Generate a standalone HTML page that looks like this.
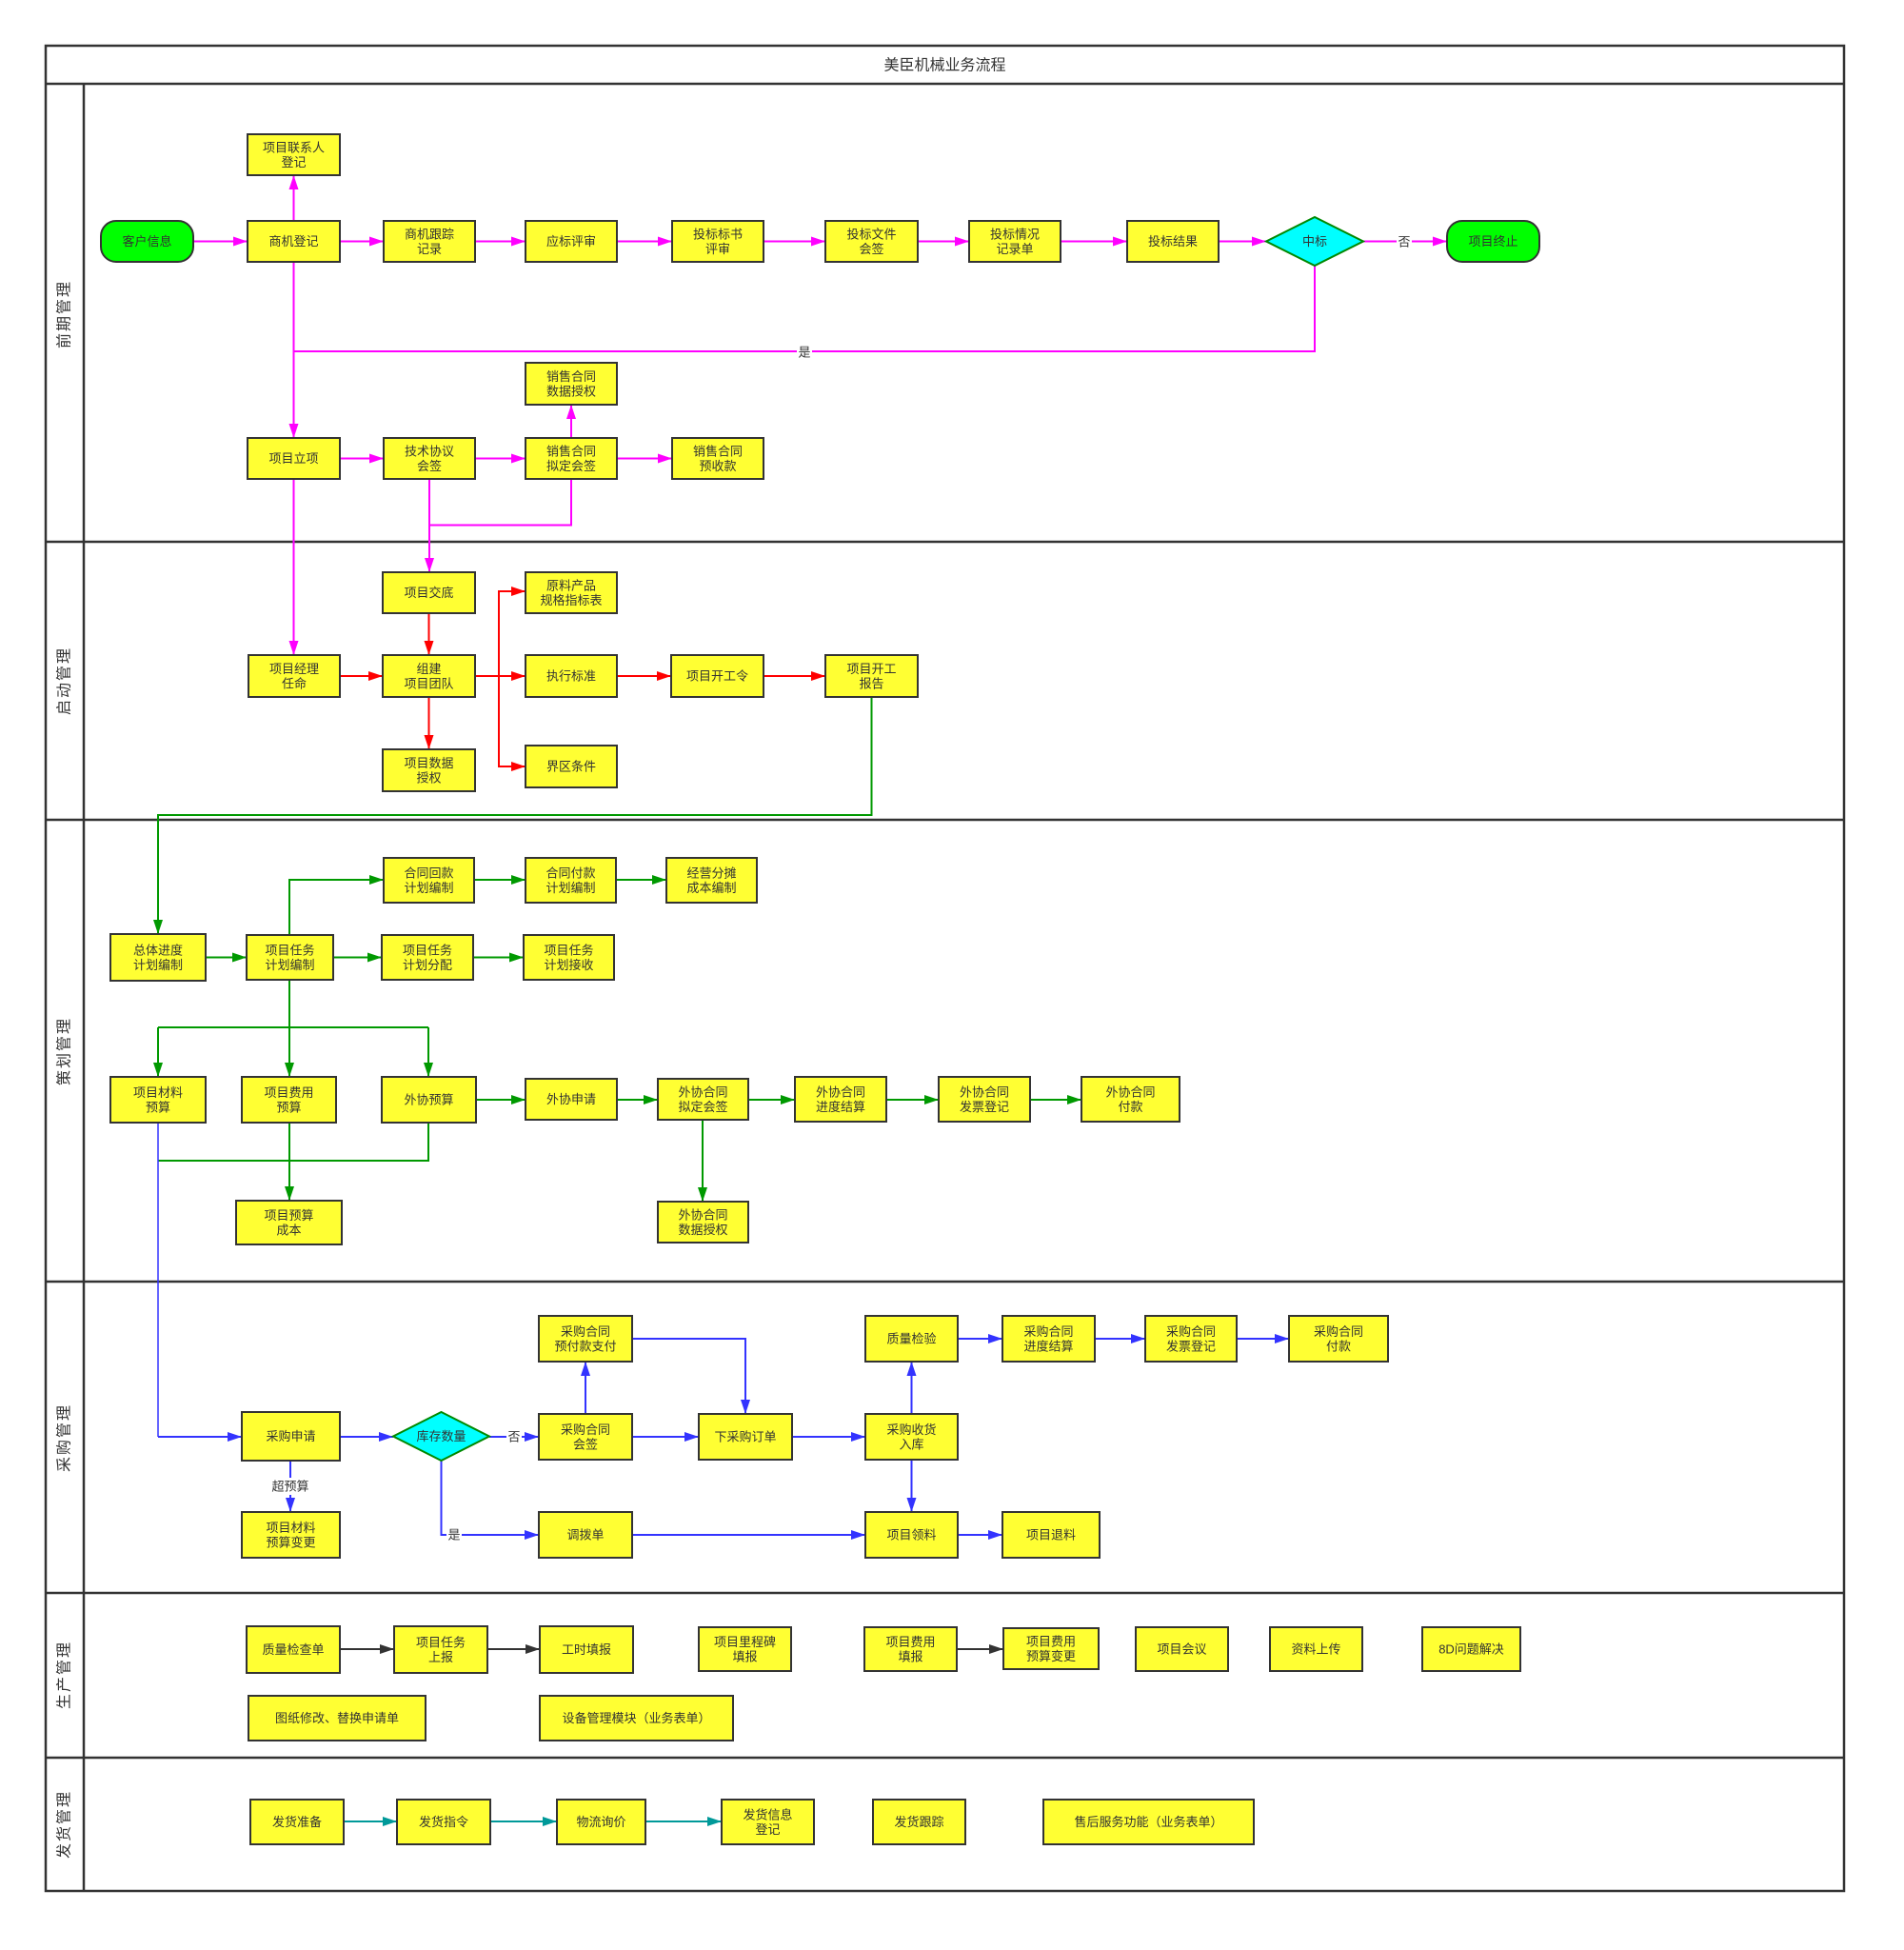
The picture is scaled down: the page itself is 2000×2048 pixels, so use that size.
<!DOCTYPE html>
<html>
<head>
<meta charset="utf-8">
<style>
html,body{margin:0;padding:0;background:#fff;}
svg{display:block;}
text{font-family:"Liberation Sans","Noto Sans CJK SC","WenQuanYi Zen Hei",sans-serif;fill:#333;}
.b{fill:#ffff33;stroke:#333;stroke-width:2;}
.p{fill:#00ff00;stroke:#333;stroke-width:2;}
.d{fill:#00ffff;stroke:#008800;stroke-width:2;}
.t{font-size:13px;text-anchor:middle;dominant-baseline:central;}
.ln{font-size:16px;text-anchor:middle;dominant-baseline:central;letter-spacing:2px;}
.M{stroke:#ff00ff;stroke-width:2;fill:none;}
.R{stroke:#ff0000;stroke-width:2;fill:none;}
.G{stroke:#009900;stroke-width:2;fill:none;}
.B{stroke:#3333ff;stroke-width:2;fill:none;}
.K{stroke:#333;stroke-width:2;fill:none;}
.T{stroke:#009999;stroke-width:2;fill:none;}
</style>
</head>
<body>
<svg width="2000" height="2048" viewBox="0 0 2000 2048" xmlns="http://www.w3.org/2000/svg">
<defs>
<marker id="aM" markerUnits="userSpaceOnUse" markerWidth="15" markerHeight="10" refX="15" refY="5" orient="auto"><path d="M0,0 L15,5 L0,10 z" fill="#ff00ff"/></marker>
<marker id="aR" markerUnits="userSpaceOnUse" markerWidth="15" markerHeight="10" refX="15" refY="5" orient="auto"><path d="M0,0 L15,5 L0,10 z" fill="#ff0000"/></marker>
<marker id="aG" markerUnits="userSpaceOnUse" markerWidth="15" markerHeight="10" refX="15" refY="5" orient="auto"><path d="M0,0 L15,5 L0,10 z" fill="#009900"/></marker>
<marker id="aB" markerUnits="userSpaceOnUse" markerWidth="15" markerHeight="10" refX="15" refY="5" orient="auto"><path d="M0,0 L15,5 L0,10 z" fill="#3333ff"/></marker>
<marker id="aK" markerUnits="userSpaceOnUse" markerWidth="15" markerHeight="10" refX="15" refY="5" orient="auto"><path d="M0,0 L15,5 L0,10 z" fill="#333"/></marker>
<marker id="aT" markerUnits="userSpaceOnUse" markerWidth="15" markerHeight="10" refX="15" refY="5" orient="auto"><path d="M0,0 L15,5 L0,10 z" fill="#009999"/></marker>
</defs>
<rect x="0" y="0" width="2000" height="2048" fill="#fff"/>

<!-- Frame -->
<rect x="48" y="48" width="1889" height="1938" fill="none" stroke="#333" stroke-width="2.5"/>
<line x1="48" y1="88" x2="1937" y2="88" stroke="#333" stroke-width="2.5"/>
<line x1="88" y1="88" x2="88" y2="1986" stroke="#333" stroke-width="2.5"/>
<line x1="48" y1="569" x2="1937" y2="569" stroke="#333" stroke-width="2.5"/>
<line x1="48" y1="861" x2="1937" y2="861" stroke="#333" stroke-width="2.5"/>
<line x1="48" y1="1346" x2="1937" y2="1346" stroke="#333" stroke-width="2.5"/>
<line x1="48" y1="1673" x2="1937" y2="1673" stroke="#333" stroke-width="2.5"/>
<line x1="48" y1="1846" x2="1937" y2="1846" stroke="#333" stroke-width="2.5"/>
<text x="992.5" y="69" style="font-size:16px;text-anchor:middle;dominant-baseline:central;">美臣机械业务流程</text>

<text class="ln" x="68" y="330" transform="rotate(-90 68 330)">前期管理</text>
<text class="ln" x="68" y="715" transform="rotate(-90 68 715)">启动管理</text>
<text class="ln" x="68" y="1104" transform="rotate(-90 68 1104)">策划管理</text>
<text class="ln" x="68" y="1510" transform="rotate(-90 68 1510)">采购管理</text>
<text class="ln" x="68" y="1759" transform="rotate(-90 68 1759)">生产管理</text>
<text class="ln" x="68" y="1916" transform="rotate(-90 68 1916)">发货管理</text>

<!-- ===== Lane 1 connectors ===== -->
<path class="M" d="M203,253.5 L260,253.5" marker-end="url(#aM)"/>
<path class="M" d="M357,253.5 L403,253.5" marker-end="url(#aM)"/>
<path class="M" d="M499,253.5 L552,253.5" marker-end="url(#aM)"/>
<path class="M" d="M648,253.5 L706,253.5" marker-end="url(#aM)"/>
<path class="M" d="M802,253.5 L867,253.5" marker-end="url(#aM)"/>
<path class="M" d="M964,253.5 L1018,253.5" marker-end="url(#aM)"/>
<path class="M" d="M1114,253.5 L1184,253.5" marker-end="url(#aM)"/>
<path class="M" d="M1280,253.5 L1330,253.5" marker-end="url(#aM)"/>
<path class="M" d="M1432,253.5 L1520,253.5" marker-end="url(#aM)"/>
<rect x="1467" y="245" width="16" height="17" fill="#fff"/>
<text class="t" x="1475" y="254">否</text>
<path class="M" d="M308.5,232 L308.5,184" marker-end="url(#aM)"/>
<path class="M" d="M308.5,275 L308.5,460" marker-end="url(#aM)"/>
<path class="M" d="M1381,279 L1381,369 L308.5,369"/>
<rect x="837" y="361" width="16" height="17" fill="#fff"/>
<text class="t" x="845" y="370">是</text>
<path class="M" d="M357,481.5 L403,481.5" marker-end="url(#aM)"/>
<path class="M" d="M499,481.5 L552,481.5" marker-end="url(#aM)"/>
<path class="M" d="M648,481.5 L706,481.5" marker-end="url(#aM)"/>
<path class="M" d="M600,460 L600,425" marker-end="url(#aM)"/>
<path class="M" d="M600,503 L600,551.5 L451,551.5"/>
<path class="M" d="M451,503 L451,601" marker-end="url(#aM)"/>
<path class="M" d="M308.5,503 L308.5,688" marker-end="url(#aM)"/>

<!-- ===== Lane 1 nodes ===== -->
<rect class="b" x="260" y="141" width="97" height="43"/>
<text class="t" x="308.5" y="154.8">项目联系人</text><text class="t" x="308.5" y="170.3">登记</text>
<rect class="p" x="106" y="232" width="97" height="43" rx="16" ry="16"/>
<text class="t" x="154.5" y="253.5">客户信息</text>
<rect class="b" x="260" y="232" width="97" height="43"/>
<text class="t" x="308.5" y="253.5">商机登记</text>
<rect class="b" x="403" y="232" width="96" height="43"/>
<text class="t" x="451" y="245.8">商机跟踪</text><text class="t" x="451" y="261.3">记录</text>
<rect class="b" x="552" y="232" width="96" height="43"/>
<text class="t" x="600" y="253.5">应标评审</text>
<rect class="b" x="706" y="232" width="96" height="43"/>
<text class="t" x="754" y="245.8">投标标书</text><text class="t" x="754" y="261.3">评审</text>
<rect class="b" x="867" y="232" width="97" height="43"/>
<text class="t" x="915.5" y="245.8">投标文件</text><text class="t" x="915.5" y="261.3">会签</text>
<rect class="b" x="1018" y="232" width="96" height="43"/>
<text class="t" x="1066" y="245.8">投标情况</text><text class="t" x="1066" y="261.3">记录单</text>
<rect class="b" x="1184" y="232" width="96" height="43"/>
<text class="t" x="1232" y="253.5">投标结果</text>
<polygon class="d" points="1330,253.5 1381,228 1432,253.5 1381,279"/>
<text class="t" x="1381" y="253.5">中标</text>
<rect class="p" x="1520" y="232" width="97" height="43" rx="16" ry="16"/>
<text class="t" x="1568.5" y="253.5">项目终止</text>
<rect class="b" x="552" y="381" width="96" height="44"/>
<text class="t" x="600" y="395.3">销售合同</text><text class="t" x="600" y="410.8">数据授权</text>
<rect class="b" x="260" y="460" width="97" height="43"/>
<text class="t" x="308.5" y="481.5">项目立项</text>
<rect class="b" x="403" y="460" width="96" height="43"/>
<text class="t" x="451" y="473.8">技术协议</text><text class="t" x="451" y="489.3">会签</text>
<rect class="b" x="552" y="460" width="96" height="43"/>
<text class="t" x="600" y="473.8">销售合同</text><text class="t" x="600" y="489.3">拟定会签</text>
<rect class="b" x="706" y="460" width="96" height="43"/>
<text class="t" x="754" y="473.8">销售合同</text><text class="t" x="754" y="489.3">预收款</text>

<!-- ===== Lane 2 connectors ===== -->
<path class="R" d="M450.5,644 L450.5,688" marker-end="url(#aR)"/>
<path class="R" d="M357,710 L402,710" marker-end="url(#aR)"/>
<path class="R" d="M499,710 L552,710" marker-end="url(#aR)"/>
<path class="R" d="M524,710 L524,621 L552,621" marker-end="url(#aR)"/>
<path class="R" d="M524,710 L524,805 L552,805" marker-end="url(#aR)"/>
<path class="R" d="M648,710 L705,710" marker-end="url(#aR)"/>
<path class="R" d="M802,710 L867,710" marker-end="url(#aR)"/>
<path class="R" d="M450.5,732 L450.5,787" marker-end="url(#aR)"/>
<path class="G" d="M915.5,732 L915.5,856 L166,856 L166,981" marker-end="url(#aG)"/>

<!-- ===== Lane 2 nodes ===== -->
<rect class="b" x="402" y="601" width="97" height="43"/>
<text class="t" x="450.5" y="622.5">项目交底</text>
<rect class="b" x="552" y="601" width="96" height="43"/>
<text class="t" x="600" y="614.8">原料产品</text><text class="t" x="600" y="630.3">规格指标表</text>
<rect class="b" x="261" y="688" width="96" height="44"/>
<text class="t" x="309" y="702.3">项目经理</text><text class="t" x="309" y="717.8">任命</text>
<rect class="b" x="402" y="688" width="97" height="44"/>
<text class="t" x="450.5" y="702.3">组建</text><text class="t" x="450.5" y="717.8">项目团队</text>
<rect class="b" x="552" y="688" width="96" height="44"/>
<text class="t" x="600" y="710">执行标准</text>
<rect class="b" x="705" y="688" width="97" height="44"/>
<text class="t" x="753.5" y="710">项目开工令</text>
<rect class="b" x="867" y="688" width="97" height="44"/>
<text class="t" x="915.5" y="702.3">项目开工</text><text class="t" x="915.5" y="717.8">报告</text>
<rect class="b" x="402" y="787" width="97" height="44"/>
<text class="t" x="450.5" y="801.3">项目数据</text><text class="t" x="450.5" y="816.8">授权</text>
<rect class="b" x="552" y="783" width="96" height="44"/>
<text class="t" x="600" y="805">界区条件</text>

<!-- ===== Lane 3 connectors ===== -->
<path class="G" d="M216,1005.5 L259,1005.5" marker-end="url(#aG)"/>
<path class="G" d="M350,1005.5 L401,1005.5" marker-end="url(#aG)"/>
<path class="G" d="M497,1005.5 L550,1005.5" marker-end="url(#aG)"/>
<path class="G" d="M304,982 L304,924 L403,924" marker-end="url(#aG)"/>
<path class="G" d="M498,924 L552,924" marker-end="url(#aG)"/>
<path class="G" d="M647,924 L700,924" marker-end="url(#aG)"/>
<path class="G" d="M304,1029 L304,1079"/>
<path class="G" d="M166,1079 L450,1079"/>
<path class="G" d="M166,1079 L166,1131" marker-end="url(#aG)"/>
<path class="G" d="M304,1079 L304,1131" marker-end="url(#aG)"/>
<path class="G" d="M450,1079 L450,1131" marker-end="url(#aG)"/>
<path class="G" d="M500,1155 L552,1155" marker-end="url(#aG)"/>
<path class="G" d="M648,1155 L691,1155" marker-end="url(#aG)"/>
<path class="G" d="M786,1155 L835,1155" marker-end="url(#aG)"/>
<path class="G" d="M931,1155 L986,1155" marker-end="url(#aG)"/>
<path class="G" d="M1082,1155 L1136,1155" marker-end="url(#aG)"/>
<path class="G" d="M450,1179 L450,1219 L166,1219"/>
<path class="G" d="M304,1179 L304,1261" marker-end="url(#aG)"/>
<path class="G" d="M738,1176 L738,1262" marker-end="url(#aG)"/>
<path d="M166,1179 L166,1509" stroke="#3333ff" stroke-width="1.5" fill="none"/>
<path class="B" d="M166,1509 L254,1509" marker-end="url(#aB)"/>

<!-- ===== Lane 3 nodes ===== -->
<rect class="b" x="403" y="901" width="95" height="47"/>
<text class="t" x="450.5" y="916.8">合同回款</text><text class="t" x="450.5" y="932.3">计划编制</text>
<rect class="b" x="552" y="901" width="95" height="47"/>
<text class="t" x="599.5" y="916.8">合同付款</text><text class="t" x="599.5" y="932.3">计划编制</text>
<rect class="b" x="700" y="901" width="95" height="47"/>
<text class="t" x="747.5" y="916.8">经营分摊</text><text class="t" x="747.5" y="932.3">成本编制</text>
<rect class="b" x="116" y="981" width="100" height="49"/>
<text class="t" x="166" y="997.8">总体进度</text><text class="t" x="166" y="1013.3">计划编制</text>
<rect class="b" x="259" y="982" width="91" height="47"/>
<text class="t" x="304.5" y="997.8">项目任务</text><text class="t" x="304.5" y="1013.3">计划编制</text>
<rect class="b" x="401" y="982" width="96" height="47"/>
<text class="t" x="449" y="997.8">项目任务</text><text class="t" x="449" y="1013.3">计划分配</text>
<rect class="b" x="550" y="982" width="95" height="47"/>
<text class="t" x="597.5" y="997.8">项目任务</text><text class="t" x="597.5" y="1013.3">计划接收</text>
<rect class="b" x="116" y="1131" width="100" height="48"/>
<text class="t" x="166" y="1147.3">项目材料</text><text class="t" x="166" y="1162.8">预算</text>
<rect class="b" x="254" y="1131" width="99" height="48"/>
<text class="t" x="303.5" y="1147.3">项目费用</text><text class="t" x="303.5" y="1162.8">预算</text>
<rect class="b" x="401" y="1131" width="99" height="48"/>
<text class="t" x="450.5" y="1155">外协预算</text>
<rect class="b" x="552" y="1133" width="96" height="43"/>
<text class="t" x="600" y="1154.5">外协申请</text>
<rect class="b" x="691" y="1133" width="95" height="43"/>
<text class="t" x="738.5" y="1146.8">外协合同</text><text class="t" x="738.5" y="1162.3">拟定会签</text>
<rect class="b" x="835" y="1131" width="96" height="47"/>
<text class="t" x="883" y="1146.8">外协合同</text><text class="t" x="883" y="1162.3">进度结算</text>
<rect class="b" x="986" y="1131" width="96" height="47"/>
<text class="t" x="1034" y="1146.8">外协合同</text><text class="t" x="1034" y="1162.3">发票登记</text>
<rect class="b" x="1136" y="1131" width="103" height="47"/>
<text class="t" x="1187.5" y="1146.8">外协合同</text><text class="t" x="1187.5" y="1162.3">付款</text>
<rect class="b" x="248" y="1261" width="111" height="46"/>
<text class="t" x="303.5" y="1276.3">项目预算</text><text class="t" x="303.5" y="1291.8">成本</text>
<rect class="b" x="691" y="1262" width="95" height="43"/>
<text class="t" x="738.5" y="1275.8">外协合同</text><text class="t" x="738.5" y="1291.3">数据授权</text>

<!-- ===== Lane 4 connectors ===== -->
<path class="B" d="M357,1509 L413,1509" marker-end="url(#aB)"/>
<path class="B" d="M514,1509 L566,1509" marker-end="url(#aB)"/>
<rect x="532" y="1500" width="16" height="17" fill="#fff"/>
<text class="t" x="540" y="1509">否</text>
<path class="B" d="M664,1509 L734,1509" marker-end="url(#aB)"/>
<path class="B" d="M832,1509 L909,1509" marker-end="url(#aB)"/>
<path class="B" d="M615,1485 L615,1430" marker-end="url(#aB)"/>
<path class="B" d="M664,1406 L783,1406 L783,1485" marker-end="url(#aB)"/>
<path class="B" d="M957.5,1485 L957.5,1430" marker-end="url(#aB)"/>
<path class="B" d="M1006,1406 L1053,1406" marker-end="url(#aB)"/>
<path class="B" d="M1150,1406 L1203,1406" marker-end="url(#aB)"/>
<path class="B" d="M1299,1406 L1354,1406" marker-end="url(#aB)"/>
<path class="B" d="M957.5,1533 L957.5,1588" marker-end="url(#aB)"/>
<path class="B" d="M664,1612 L909,1612" marker-end="url(#aB)"/>
<path class="B" d="M1006,1612 L1053,1612" marker-end="url(#aB)"/>
<path class="B" d="M463.5,1534 L463.5,1612 L566,1612" marker-end="url(#aB)"/>
<rect x="469" y="1603" width="16" height="17" fill="#fff"/>
<text class="t" x="477" y="1612">是</text>
<path class="B" d="M305,1534 L305,1588" marker-end="url(#aB)"/>
<rect x="284" y="1552" width="42" height="18" fill="#fff"/>
<text class="t" x="305" y="1561">超预算</text>

<!-- ===== Lane 4 nodes ===== -->
<rect class="b" x="254" y="1483" width="103" height="51"/>
<text class="t" x="305.5" y="1508.5">采购申请</text>
<polygon class="d" points="413,1508.5 463.5,1483 514,1508.5 463.5,1534"/>
<text class="t" x="463.5" y="1508.5">库存数量</text>
<rect class="b" x="566" y="1485" width="98" height="48"/>
<text class="t" x="615" y="1501.3">采购合同</text><text class="t" x="615" y="1516.8">会签</text>
<rect class="b" x="566" y="1382" width="98" height="48"/>
<text class="t" x="615" y="1398.3">采购合同</text><text class="t" x="615" y="1413.8">预付款支付</text>
<rect class="b" x="734" y="1485" width="98" height="48"/>
<text class="t" x="783" y="1509">下采购订单</text>
<rect class="b" x="909" y="1485" width="97" height="48"/>
<text class="t" x="957.5" y="1501.3">采购收货</text><text class="t" x="957.5" y="1516.8">入库</text>
<rect class="b" x="909" y="1382" width="97" height="48"/>
<text class="t" x="957.5" y="1406">质量检验</text>
<rect class="b" x="1053" y="1382" width="97" height="48"/>
<text class="t" x="1101.5" y="1398.3">采购合同</text><text class="t" x="1101.5" y="1413.8">进度结算</text>
<rect class="b" x="1203" y="1382" width="96" height="48"/>
<text class="t" x="1251" y="1398.3">采购合同</text><text class="t" x="1251" y="1413.8">发票登记</text>
<rect class="b" x="1354" y="1382" width="104" height="48"/>
<text class="t" x="1406" y="1398.3">采购合同</text><text class="t" x="1406" y="1413.8">付款</text>
<rect class="b" x="566" y="1588" width="98" height="48"/>
<text class="t" x="615" y="1612">调拨单</text>
<rect class="b" x="909" y="1588" width="97" height="48"/>
<text class="t" x="957.5" y="1612">项目领料</text>
<rect class="b" x="1053" y="1588" width="102" height="48"/>
<text class="t" x="1104" y="1612">项目退料</text>
<rect class="b" x="254" y="1588" width="103" height="48"/>
<text class="t" x="305.5" y="1604.3">项目材料</text><text class="t" x="305.5" y="1619.8">预算变更</text>

<!-- ===== Lane 5 ===== -->
<path class="K" d="M357,1732 L414,1732" marker-end="url(#aK)"/>
<path class="K" d="M512,1732 L567,1732" marker-end="url(#aK)"/>
<path class="K" d="M1005,1732 L1054,1732" marker-end="url(#aK)"/>
<rect class="b" x="259" y="1708" width="98" height="49"/>
<text class="t" x="308" y="1732.5">质量检查单</text>
<rect class="b" x="414" y="1708" width="98" height="49"/>
<text class="t" x="463" y="1724.8">项目任务</text><text class="t" x="463" y="1740.3">上报</text>
<rect class="b" x="567" y="1708" width="98" height="49"/>
<text class="t" x="616" y="1732.5">工时填报</text>
<rect class="b" x="734" y="1709" width="97" height="46"/>
<text class="t" x="782.5" y="1724.3">项目里程碑</text><text class="t" x="782.5" y="1739.8">填报</text>
<rect class="b" x="908" y="1709" width="97" height="46"/>
<text class="t" x="956.5" y="1724.3">项目费用</text><text class="t" x="956.5" y="1739.8">填报</text>
<rect class="b" x="1054" y="1710" width="100" height="43"/>
<text class="t" x="1104" y="1723.8">项目费用</text><text class="t" x="1104" y="1739.3">预算变更</text>
<rect class="b" x="1193" y="1709" width="97" height="46"/>
<text class="t" x="1241.5" y="1732">项目会议</text>
<rect class="b" x="1334" y="1709" width="97" height="46"/>
<text class="t" x="1382.5" y="1732">资料上传</text>
<rect class="b" x="1494" y="1709" width="103" height="46"/>
<text class="t" x="1545.5" y="1732">8D问题解决</text>
<rect class="b" x="261" y="1781" width="186" height="47"/>
<text class="t" x="354" y="1804.5">图纸修改、替换申请单</text>
<rect class="b" x="567" y="1781" width="203" height="47"/>
<text class="t" x="668.5" y="1804.5">设备管理模块（业务表单）</text>

<!-- ===== Lane 6 ===== -->
<path class="T" d="M361,1913 L417,1913" marker-end="url(#aT)"/>
<path class="T" d="M515,1913 L585,1913" marker-end="url(#aT)"/>
<path class="T" d="M678,1913 L758,1913" marker-end="url(#aT)"/>
<rect class="b" x="263" y="1890" width="98" height="47"/>
<text class="t" x="312" y="1913.5">发货准备</text>
<rect class="b" x="417" y="1890" width="98" height="47"/>
<text class="t" x="466" y="1913.5">发货指令</text>
<rect class="b" x="585" y="1890" width="93" height="47"/>
<text class="t" x="631.5" y="1913.5">物流询价</text>
<rect class="b" x="758" y="1890" width="97" height="47"/>
<text class="t" x="806.5" y="1905.8">发货信息</text><text class="t" x="806.5" y="1921.3">登记</text>
<rect class="b" x="917" y="1890" width="97" height="47"/>
<text class="t" x="965.5" y="1913.5">发货跟踪</text>
<rect class="b" x="1096" y="1890" width="221" height="47"/>
<text class="t" x="1206.5" y="1913.5">售后服务功能（业务表单）</text>
</svg>
</body>
</html>
